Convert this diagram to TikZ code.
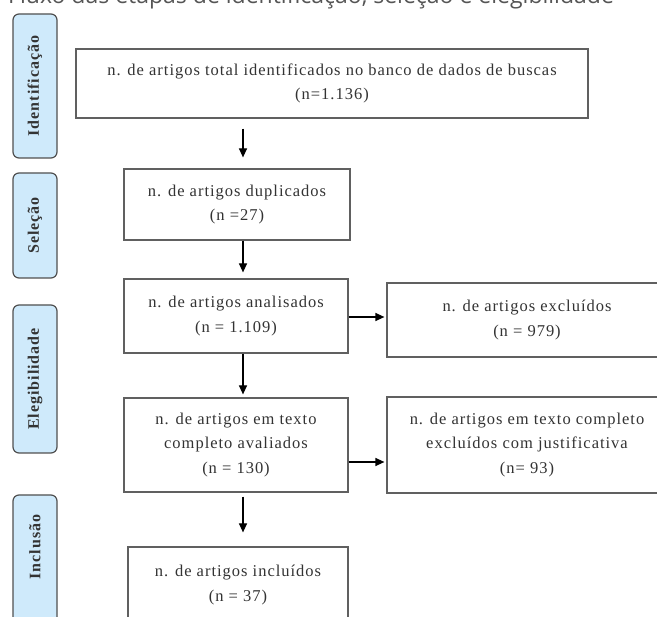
\documentclass[tikz,border=0pt]{standalone}
\usepackage{fontspec}
\setmainfont{Liberation Serif}
\newfontfamily\capfont{Open Sans}
\newfontfamily\boxfont[LetterSpace=6]{Liberation Serif}
\newfontfamily\sidefont[LetterSpace=6]{Liberation Serif}
\usetikzlibrary{arrows.meta}
\definecolor{sidefill}{HTML}{CFEAFB}
\definecolor{sideline}{HTML}{505050}
\definecolor{boxline}{HTML}{606060}
\definecolor{captext}{HTML}{555555}
\definecolor{boxtext}{HTML}{333333}
\tikzset{
  flowbox/.style={draw=boxline, line width=1.2pt, fill=white, align=center,
    inner sep=0pt, text=boxtext, font=\boxfont\fontsize{16.5}{24.5}\selectfont},
  sidebox/.style={draw=sideline, fill=sidefill, line width=1.2pt,
    rounded corners=6pt, rotate=90, minimum height=44pt, inner sep=0pt},
  sidetext/.style={rotate=90, text=boxtext, font=\sidefont\bfseries\fontsize{16}{18}\selectfont},
  arr/.style={line width=1.2pt, draw=black, -{Triangle[width=8pt,length=9pt]}}
}
\begin{document}
\begin{tikzpicture}[x=1pt,y=-1pt]
\useasboundingbox (0,0) rectangle (657,617);
\clip (0,0) rectangle (657,617);
\fill[white] (0,0) rectangle (657,617);
% caption (cut at top)
\node[anchor=base west, inner sep=0pt, text=captext, font=\capfont\fontsize{23}{25}\selectfont] (cap) at (8,3.5) {Fluxo das etapas de identificação, seleção e elegibilidade};
% side labels
\node[sidebox, minimum width=144pt] (sid) at (35,86) {};
\node[sidetext] (sidt) at (35,86) {Identificação};
\node[sidebox, minimum width=105pt] (ssel) at (35,225.5) {};
\node[sidetext] (sselt) at (35,225.5) {Seleção};
\node[sidebox, minimum width=148pt] (seleg) at (35,379) {};
\node[sidetext] (selegt) at (35,379) {Elegibilidade};
\node[sidebox, minimum width=150pt] (sinc) at (35,570) {};
\node[sidetext] (sinct) at (35,547) {Inclusão};
% boxes
\node[flowbox, minimum width=512pt, minimum height=69pt] (b1) at (332,83.5) {n. de artigos total identificados no banco de dados de buscas\\(n=1.136)};
\node[flowbox, minimum width=226pt, minimum height=71pt] (b2) at (237,204.5) {n. de artigos duplicados\\(n =27)};
\node[flowbox, minimum width=224pt, minimum height=74pt] (b3) at (236,316) {n. de artigos analisados\\(n = 1.109)};
\node[flowbox, minimum width=280pt, minimum height=74pt] (b4) at (527,320) {n. de artigos excluídos\\(n = 979)};
\node[flowbox, minimum width=224pt, minimum height=94pt] (b5) at (236,445) {n. de artigos em texto\\completo avaliados\\(n = 130)};
\node[flowbox, minimum width=280pt, minimum height=96pt] (b6) at (527,445) {n. de artigos em texto completo\\excluídos com justificativa\\(n= 93)};
\node[flowbox, minimum width=220pt, minimum height=76pt] (b7) at (238,585) {n. de artigos incluídos\\(n = 37)};
% arrows
\coordinate (col) at (243,0);
\draw[arr, shorten <=10pt, shorten >=11pt] (b1.south -| col) -- (b2.north -| col);
\draw[arr, shorten >=6pt] (b2.south -| col) -- (b3.north -| col);
\draw[arr, shorten >=3pt] (b3.south -| col) -- (b5.north -| col);
\draw[arr, shorten <=4pt, shorten >=14pt] (b5.south -| col) -- (b7.north -| col);
\draw[arr, shorten >=2pt] (b3.east |- 0,317) -- (b4.west |- 0,317);
\draw[arr, shorten >=2pt] (b5.east |- 0,462) -- (b6.west |- 0,462);
\end{tikzpicture}
\end{document}
